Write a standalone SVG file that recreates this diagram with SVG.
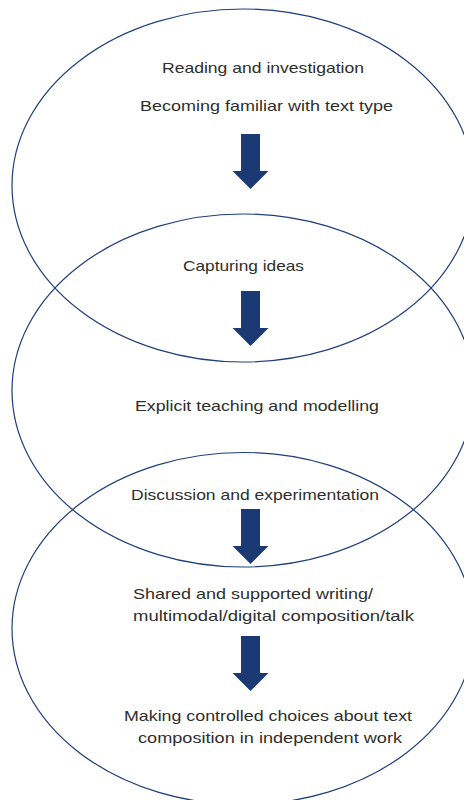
<svg xmlns="http://www.w3.org/2000/svg" width="464" height="800" viewBox="0 0 464 800">
<style>
.oval{fill:none;stroke:#1f3e7c;stroke-width:1.2}
.arrow{fill:#1b3a73}
.lbl{font-family:"Liberation Sans",Arial,sans-serif;font-size:15px;fill:#2e2e2e;text-anchor:middle}
</style>
<defs>
<path id="arr" class="arrow" d="M-9.5,0 H9.5 V37 H18 L0,55 L-18,37 H-9.5 Z"/>
</defs>
<rect width="464" height="800" fill="#fff"/>
<g id="oval1"><ellipse class="oval" cx="243" cy="185.5" rx="231" ry="176.5"/></g>
<g id="oval2"><ellipse class="oval" cx="243" cy="390.5" rx="231" ry="176.5"/></g>
<g id="oval3"><ellipse class="oval" cx="243" cy="628.5" rx="231" ry="176"/></g>
<g id="connectors">
<use href="#arr" x="250.5" y="134"/>
<use href="#arr" x="250.5" y="291"/>
<use href="#arr" x="250.5" y="509"/>
<use href="#arr" x="250.5" y="636"/>
</g>
<g id="node-reading">
<text class="lbl" x="263" y="73" textLength="202" lengthAdjust="spacingAndGlyphs">Reading and investigation</text>
<text class="lbl" x="266.5" y="111" textLength="253" lengthAdjust="spacingAndGlyphs">Becoming familiar with text type</text>
</g>
<g id="node-capturing">
<text class="lbl" x="243.5" y="271" textLength="121" lengthAdjust="spacingAndGlyphs">Capturing ideas</text>
</g>
<g id="node-explicit">
<text class="lbl" x="257" y="411" textLength="244" lengthAdjust="spacingAndGlyphs">Explicit teaching and modelling</text>
</g>
<g id="node-discussion">
<text class="lbl" x="255" y="500" textLength="248" lengthAdjust="spacingAndGlyphs">Discussion and experimentation</text>
</g>
<g id="node-shared">
<text class="lbl" x="253" y="599" textLength="240" lengthAdjust="spacingAndGlyphs">Shared and supported writing/</text>
<text class="lbl" x="273.5" y="621" textLength="281" lengthAdjust="spacingAndGlyphs">multimodal/digital composition/talk</text>
</g>
<g id="node-making">
<text class="lbl" x="268" y="721" textLength="288" lengthAdjust="spacingAndGlyphs">Making controlled choices about text</text>
<text class="lbl" x="270" y="743" textLength="264" lengthAdjust="spacingAndGlyphs">composition in independent work</text>
</g>
</svg>
